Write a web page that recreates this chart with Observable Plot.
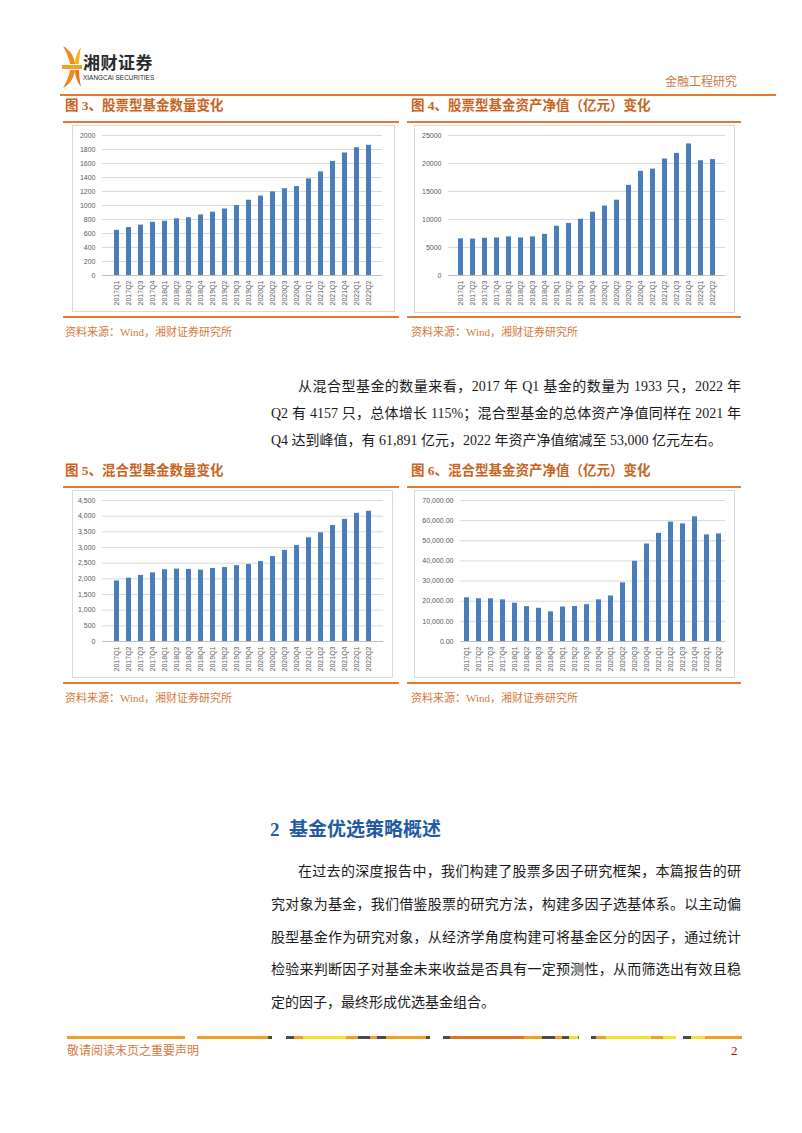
<!DOCTYPE html>
<html>
<head>
<meta charset="utf-8">
<script src="https://cdn.jsdelivr.net/npm/d3@7"></script>
<script src="https://cdn.jsdelivr.net/npm/@observablehq/plot@0.6"></script>
<style>
  html, body { margin: 0; padding: 0; background: #fff; }
  #page { position: relative; width: 802px; height: 1133px; overflow: hidden; background: #fff;
    font-family: "Liberation Serif", "Noto Sans CJK SC", serif; color: #1a1a1a; }
  .abs { position: absolute; }
  .hline { position: absolute; height: 2px; background: #e07b30; }
  .ctitle { position: absolute; font-family: "Liberation Serif", "Noto Sans CJK SC", serif; font-weight: bold;
    font-size: 13.5px; color: #c8641e; line-height: 16px; white-space: nowrap; }
  .src { position: absolute; font-size: 11px; color: #d27a3c; line-height: 14px; white-space: nowrap; }
  .box { position: absolute; border: 1px solid #d9d9d9; box-sizing: border-box; background: #fff; }
  .box svg { position: absolute; left: 0; top: 0; }
  .line { position: absolute; font-size: 14px; line-height: 18px; text-align: justify; text-align-last: justify; white-space: nowrap; }
  .line.last { text-align-last: left; }
</style>
</head>
<body>
<div id="page">
  <!-- header -->
  <svg class="abs" style="left:60px;top:44px" width="24" height="46" viewBox="0 0 24 46">
    <path d="M3 2 C10 6 14 12 15 20 L10 20 C9 13 6 8 3 2 Z" fill="#f08a1c"/>
    <path d="M21 3 C17 8 15 14 15 20 L19 20 C19 14 20 8 21 3 Z" fill="#f6b21a"/>
    <path d="M2 21 L22 21 L22 25 L2 25 Z" fill="#f3a21e"/>
    <path d="M3 44 C10 40 14 34 15 26 L10 26 C9 33 6 38 3 44 Z" fill="#f08a1c"/>
    <path d="M21 43 C17 38 15 32 15 26 L19 26 C19 32 20 38 21 43 Z" fill="#e8781a"/>
  </svg>
  <div class="abs" style="left:83px;top:52px;font-family:'Noto Sans CJK SC';font-size:17px;font-weight:bold;color:#2b2b2b;line-height:20px;letter-spacing:0.5px">湘财证券</div>
  <div class="abs" style="left:83px;top:73px;font-family:'Liberation Sans';font-size:7px;color:#2b2b2b;line-height:9px;transform:scaleX(0.92);transform-origin:left">XIANGCAI SECURITIES</div>
  <div class="abs" style="left:665px;top:75px;font-size:12px;color:#c87a48;line-height:14px">金融工程研究</div>
  <div class="hline" style="left:60px;top:94px;width:716px;"></div>

  <!-- row 1 -->
  <div class="ctitle" style="left:65px;top:98px">图 3、股票型基金数量变化</div>
  <div class="ctitle" style="left:411px;top:98px">图 4、股票型基金资产净值（亿元）变化</div>
  <div class="hline" style="left:63px;top:121px;width:336px;"></div>
  <div class="hline" style="left:407px;top:121px;width:334px;"></div>
  <div class="box" id="c3" style="left:72px;top:125px;width:323px;height:187px"></div>
  <div class="box" id="c4" style="left:414px;top:125px;width:321px;height:188px"></div>
  <div class="hline" style="left:63px;top:316px;width:336px;"></div>
  <div class="hline" style="left:407px;top:316px;width:334px;"></div>
  <div class="src" style="left:65px;top:325px">资料来源：Wind，湘财证券研究所</div>
  <div class="src" style="left:411px;top:325px">资料来源：Wind，湘财证券研究所</div>

  <!-- paragraph 1 -->
  <div class="line" style="left:298px;top:378px;width:443px">从混合型基金的数量来看，2017 年 Q1 基金的数量为 1933 只，2022 年</div>
  <div class="line" style="left:271px;top:405px;width:470px">Q2 有 4157 只，总体增长 115%；混合型基金的总体资产净值同样在 2021 年</div>
  <div class="line last" style="left:271px;top:432px;width:470px">Q4 达到峰值，有 61,891 亿元，2022 年资产净值缩减至 53,000 亿元左右。</div>

  <!-- row 2 -->
  <div class="ctitle" style="left:65px;top:463px">图 5、混合型基金数量变化</div>
  <div class="ctitle" style="left:411px;top:463px">图 6、混合型基金资产净值（亿元）变化</div>
  <div class="hline" style="left:63px;top:486px;width:336px;"></div>
  <div class="hline" style="left:407px;top:486px;width:334px;"></div>
  <div class="box" id="c5" style="left:72px;top:490px;width:321px;height:188px"></div>
  <div class="box" id="c6" style="left:414px;top:490px;width:321px;height:188px"></div>
  <div class="hline" style="left:63px;top:682px;width:336px;"></div>
  <div class="hline" style="left:407px;top:682px;width:334px;"></div>
  <div class="src" style="left:65px;top:691px">资料来源：Wind，湘财证券研究所</div>
  <div class="src" style="left:411px;top:691px">资料来源：Wind，湘财证券研究所</div>

  <!-- section 2 -->
  <div class="abs" style="left:270px;top:818px;font-size:19px;font-weight:bold;color:#1f5aa6;line-height:24px;white-space:nowrap">2&nbsp; 基金优选策略概述</div>
  <div class="line" style="left:298px;top:863px;width:443px">在过去的深度报告中，我们构建了股票多因子研究框架，本篇报告的研</div>
  <div class="line" style="left:271px;top:896px;width:470px">究对象为基金，我们借鉴股票的研究方法，构建多因子选基体系。以主动偏</div>
  <div class="line" style="left:271px;top:929px;width:470px">股型基金作为研究对象，从经济学角度构建可将基金区分的因子，通过统计</div>
  <div class="line" style="left:271px;top:961px;width:470px">检验来判断因子对基金未来收益是否具有一定预测性，从而筛选出有效且稳</div>
  <div class="line last" style="left:271px;top:994px;width:470px">定的因子，最终形成优选基金组合。</div>

  <!-- footer -->
  <div id="footline" class="abs" style="left:67px;top:1036px;height:3px;width:680px"></div>
  <div class="abs" style="left:67px;top:1043px;font-size:12px;color:#d27a3c;line-height:16px">敬请阅读末页之重要声明</div>
  <div class="abs" style="left:731px;top:1043px;font-size:13px;color:#8b1a1a;line-height:16px">2</div>
</div>

<script>
// ---------------- data ----------------
const quarters = ["2017Q1","2017Q2","2017Q3","2017Q4","2018Q1","2018Q2","2018Q3","2018Q4",
  "2019Q1","2019Q2","2019Q3","2019Q4","2020Q1","2020Q2","2020Q3","2020Q4",
  "2021Q1","2021Q2","2021Q3","2021Q4","2022Q1","2022Q2"];
const stockCount = [645, 685, 720, 760, 775, 810, 825, 865, 905, 950, 1000, 1075,
  1135, 1195, 1240, 1270, 1380, 1480, 1630, 1750, 1825, 1860];
const stockNav = [6550, 6500, 6650, 6700, 6900, 6700, 6900, 7350, 8800, 9300, 10050, 11300,
  12400, 13450, 16100, 18600, 19000, 20800, 21800, 23500, 20500, 20700];
const mixedCount = [1933, 2020, 2110, 2190, 2290, 2310, 2300, 2280, 2330, 2360, 2420, 2460,
  2550, 2710, 2910, 3060, 3310, 3470, 3700, 3900, 4090, 4157];
const mixedNav = [21700, 21200, 21200, 20700, 19000, 17300, 16500, 14700, 17100, 17400, 18300, 20700,
  22600, 29100, 39800, 48400, 53700, 59300, 58400, 61891, 52900, 53400];
const stockCountTicks = [0, 200, 400, 600, 800, 1000, 1200, 1400, 1600, 1800, 2000];
const stockNavTicks = [0, 5000, 10000, 15000, 20000, 25000];
const mixedCountTicks = [0, 500, 1000, 1500, 2000, 2500, 3000, 3500, 4000, 4500];
const mixedNavTicks = [0, 10000, 20000, 30000, 40000, 50000, 60000, 70000];

// footer decorative stripe colours (widths in px)
const footSegments = [
  ["#f0a020",118],["#fff",12],["#f0a020",71],["#4a4a4a",4],["#fff",14],["#4a4a4a",8],["#f0a020",9],["#f5e030",43],
  ["#f0a020",12],["#4a4a4a",12],["#f0a020",7],["#4a4a4a",9],["#f0a020",40],["#4a4a4a",4],["#fff",13],
  ["#4a4a4a",7],["#e07020",74],["#f0a020",18],["#4a4a4a",13],["#f0a020",7],["#4a4a4a",7],["#f5e030",9],["#3a9a3a",1],
  ["#fff",12],["#4a4a4a",5],["#f0a020",10],["#f5e030",45],["#f0a020",12],["#f5e030",13],["#fff",7],
  ["#4a4a4a",8],["#f5e030",14],["#f0a020",37]
];

// ---------------- charts ----------------
function barChart(values, ticks, fmt, width, height, ml, mr, mt, mb) {
  const data = quarters.map((q, i) => ({q, v: values[i]}));
  return Plot.plot({
    width, height,
    marginLeft: ml, marginRight: mr, marginTop: mt, marginBottom: mb,
    style: {fontFamily: "'Liberation Sans', Arial, sans-serif", fontSize: "7px", color: "#595959",
      background: "transparent", overflow: "visible"},
    x: {type: "band", domain: quarters, paddingInner: 0.62, paddingOuter: 0.31, label: null,
      tickSize: 0, tickRotate: -90, tickPadding: 5},
    y: {domain: [ticks[0], ticks[ticks.length - 1]], label: null},
    marks: [
      Plot.gridY(ticks, {stroke: "#d9d9d9", strokeOpacity: 1}),
      Plot.ruleY([0], {stroke: "#bfbfbf"}),
      Plot.barY(data, {x: "q", y: "v", fill: "#4a7ebb"}),
      Plot.axisY(ticks, {tickSize: 0, tickPadding: 7, tickFormat: fmt, label: null}),
      Plot.axisX({tickSize: 0, tickRotate: -90, tickPadding: 5, label: null})
    ]
  });
}

document.getElementById("c3").appendChild(
  barChart(stockCount, stockCountTicks, d3.format("d"), 321, 185, 29, 12, 9, 36));
document.getElementById("c4").appendChild(
  barChart(stockNav, stockNavTicks, d3.format("d"), 319, 186, 33, 9, 9, 37));
document.getElementById("c5").appendChild(
  barChart(mixedCount, mixedCountTicks, d3.format(","), 319, 186, 29, 9, 9, 36));
document.getElementById("c6").appendChild(
  barChart(mixedNav, mixedNavTicks, d3.format(",.2f"), 319, 186, 45, 9, 9, 36));

// footer stripe
const fl = document.getElementById("footline");
let x = 0;
for (const [c, w] of footSegments) {
  const d = document.createElement("div");
  d.style.cssText = `position:absolute;left:${x}px;top:0;width:${w}px;height:3px;background:${c}`;
  fl.appendChild(d);
  x += w;
}
</script>
</body>
</html>
